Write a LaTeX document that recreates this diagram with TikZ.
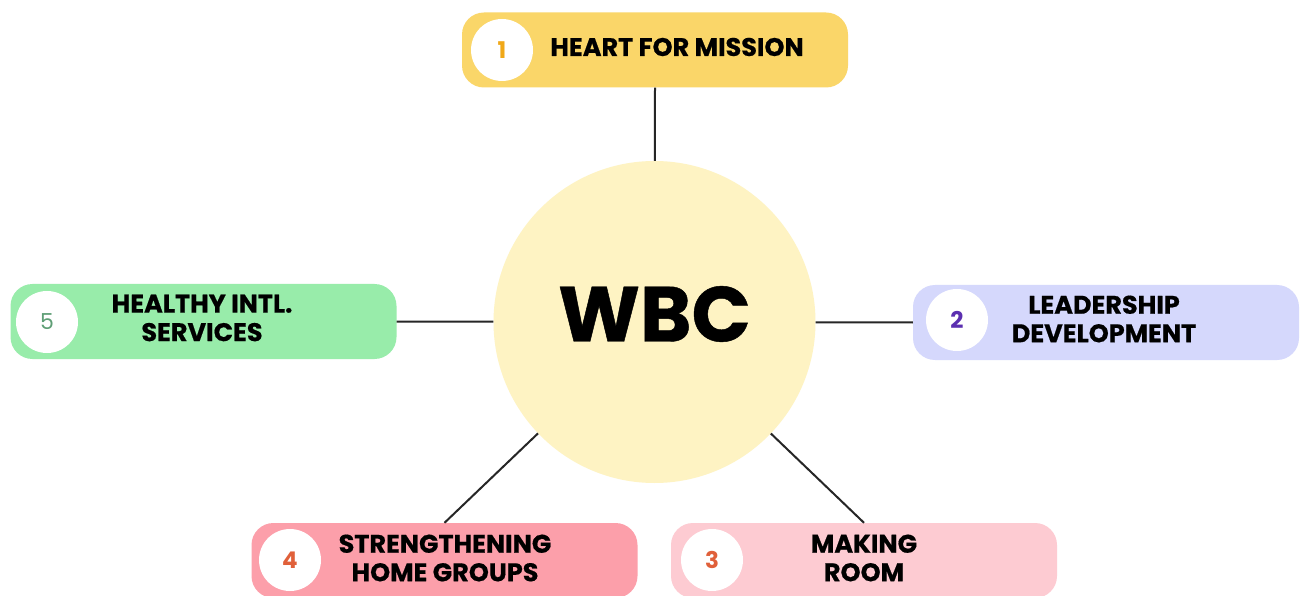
\documentclass[tikz,border=0pt]{standalone}
\usepackage{fontspec}
\setmainfont{Poppins}
\newfontfamily\pop{Poppins}[FakeBold=0.6]
\newfontfamily\popn{Poppins}
\definecolor{cyel}{HTML}{FAD669}
\definecolor{cgreen}{HTML}{98ECAA}
\definecolor{clav}{HTML}{D5D8FC}
\definecolor{cpink}{HTML}{FC9FAA}
\definecolor{clpink}{HTML}{FDCBD2}
\definecolor{ccore}{HTML}{FEF3C3}
\definecolor{n1}{HTML}{F0A818}
\definecolor{n5}{HTML}{5E9E75}
\definecolor{n2}{HTML}{5B2FB0}
\definecolor{n4}{HTML}{E0603A}
\begin{document}
\begin{tikzpicture}[x=1pt,y=-1pt,
  pill/.style={rectangle, rounded corners=22pt, minimum width=386pt, minimum height=75pt, inner sep=0pt},
  badge/.style={circle, fill=white, minimum size=62pt, inner sep=0pt, font=\popn\bfseries\fontsize{23}{23}\selectfont},
  label/.style={align=center, inner sep=0pt, font=\pop\bfseries\fontsize{25.5}{28.5}\selectfont},
  link/.style={draw=black!85, line width=2pt}]
\clip (0,0) rectangle (1302,596);
\fill[white] (0,0) rectangle (1302,596);
% central circle
\node[circle, fill=ccore, minimum size=322pt, inner sep=0pt] (wbc) at (654.5,322) {};
\node[font=\pop\bfseries\fontsize{78}{78}\selectfont] (wbct) at (654.5,314) {WBC};
% pills
\node[pill, fill=cyel] (p1) at (655,50) {};
\node[pill, fill=cgreen] (p5) at (203.5,321.5) {};
\node[pill, fill=clav] (p2) at (1106,322.5) {};
\node[pill, fill=cpink] (p4) at (444.5,560.5) {};
\node[pill, fill=clpink] (p3) at (864,560.5) {};
% badges
\node[badge, text=n1] (b1) at (502,50) {1};
\node[badge, text=n5, font=\popn\fontsize{22}{22}\selectfont] (b5) at (47,322) {5};
\node[badge, text=n2] (b2) at (957,320) {2};
\node[badge, text=n4] (b4) at (290,560) {4};
\node[badge, text=n4] (b3) at (712,560) {3};
% labels
\node[label] (t1) at (677,47) {HEART FOR MISSION};
\node[label] (t5) at (202,318) {HEALTHY INTL.\\SERVICES};
\node[label] (t2) at (1104,319) {LEADERSHIP\\DEVELOPMENT};
\node[label] (t4) at (445,558) {STRENGTHENING\\HOME GROUPS};
\node[label] (t3) at (864,558) {MAKING\\ROOM};
% connectors
\draw[link] (wbc) -- (p1.south);
\draw[link] (wbc) -- (p5.east);
\draw[link] (wbc) -- (p2.west);
\draw[link] (wbc) -- (p4.north);
\draw[link] (wbc) -- (p3.north);
\end{tikzpicture}
\end{document}
